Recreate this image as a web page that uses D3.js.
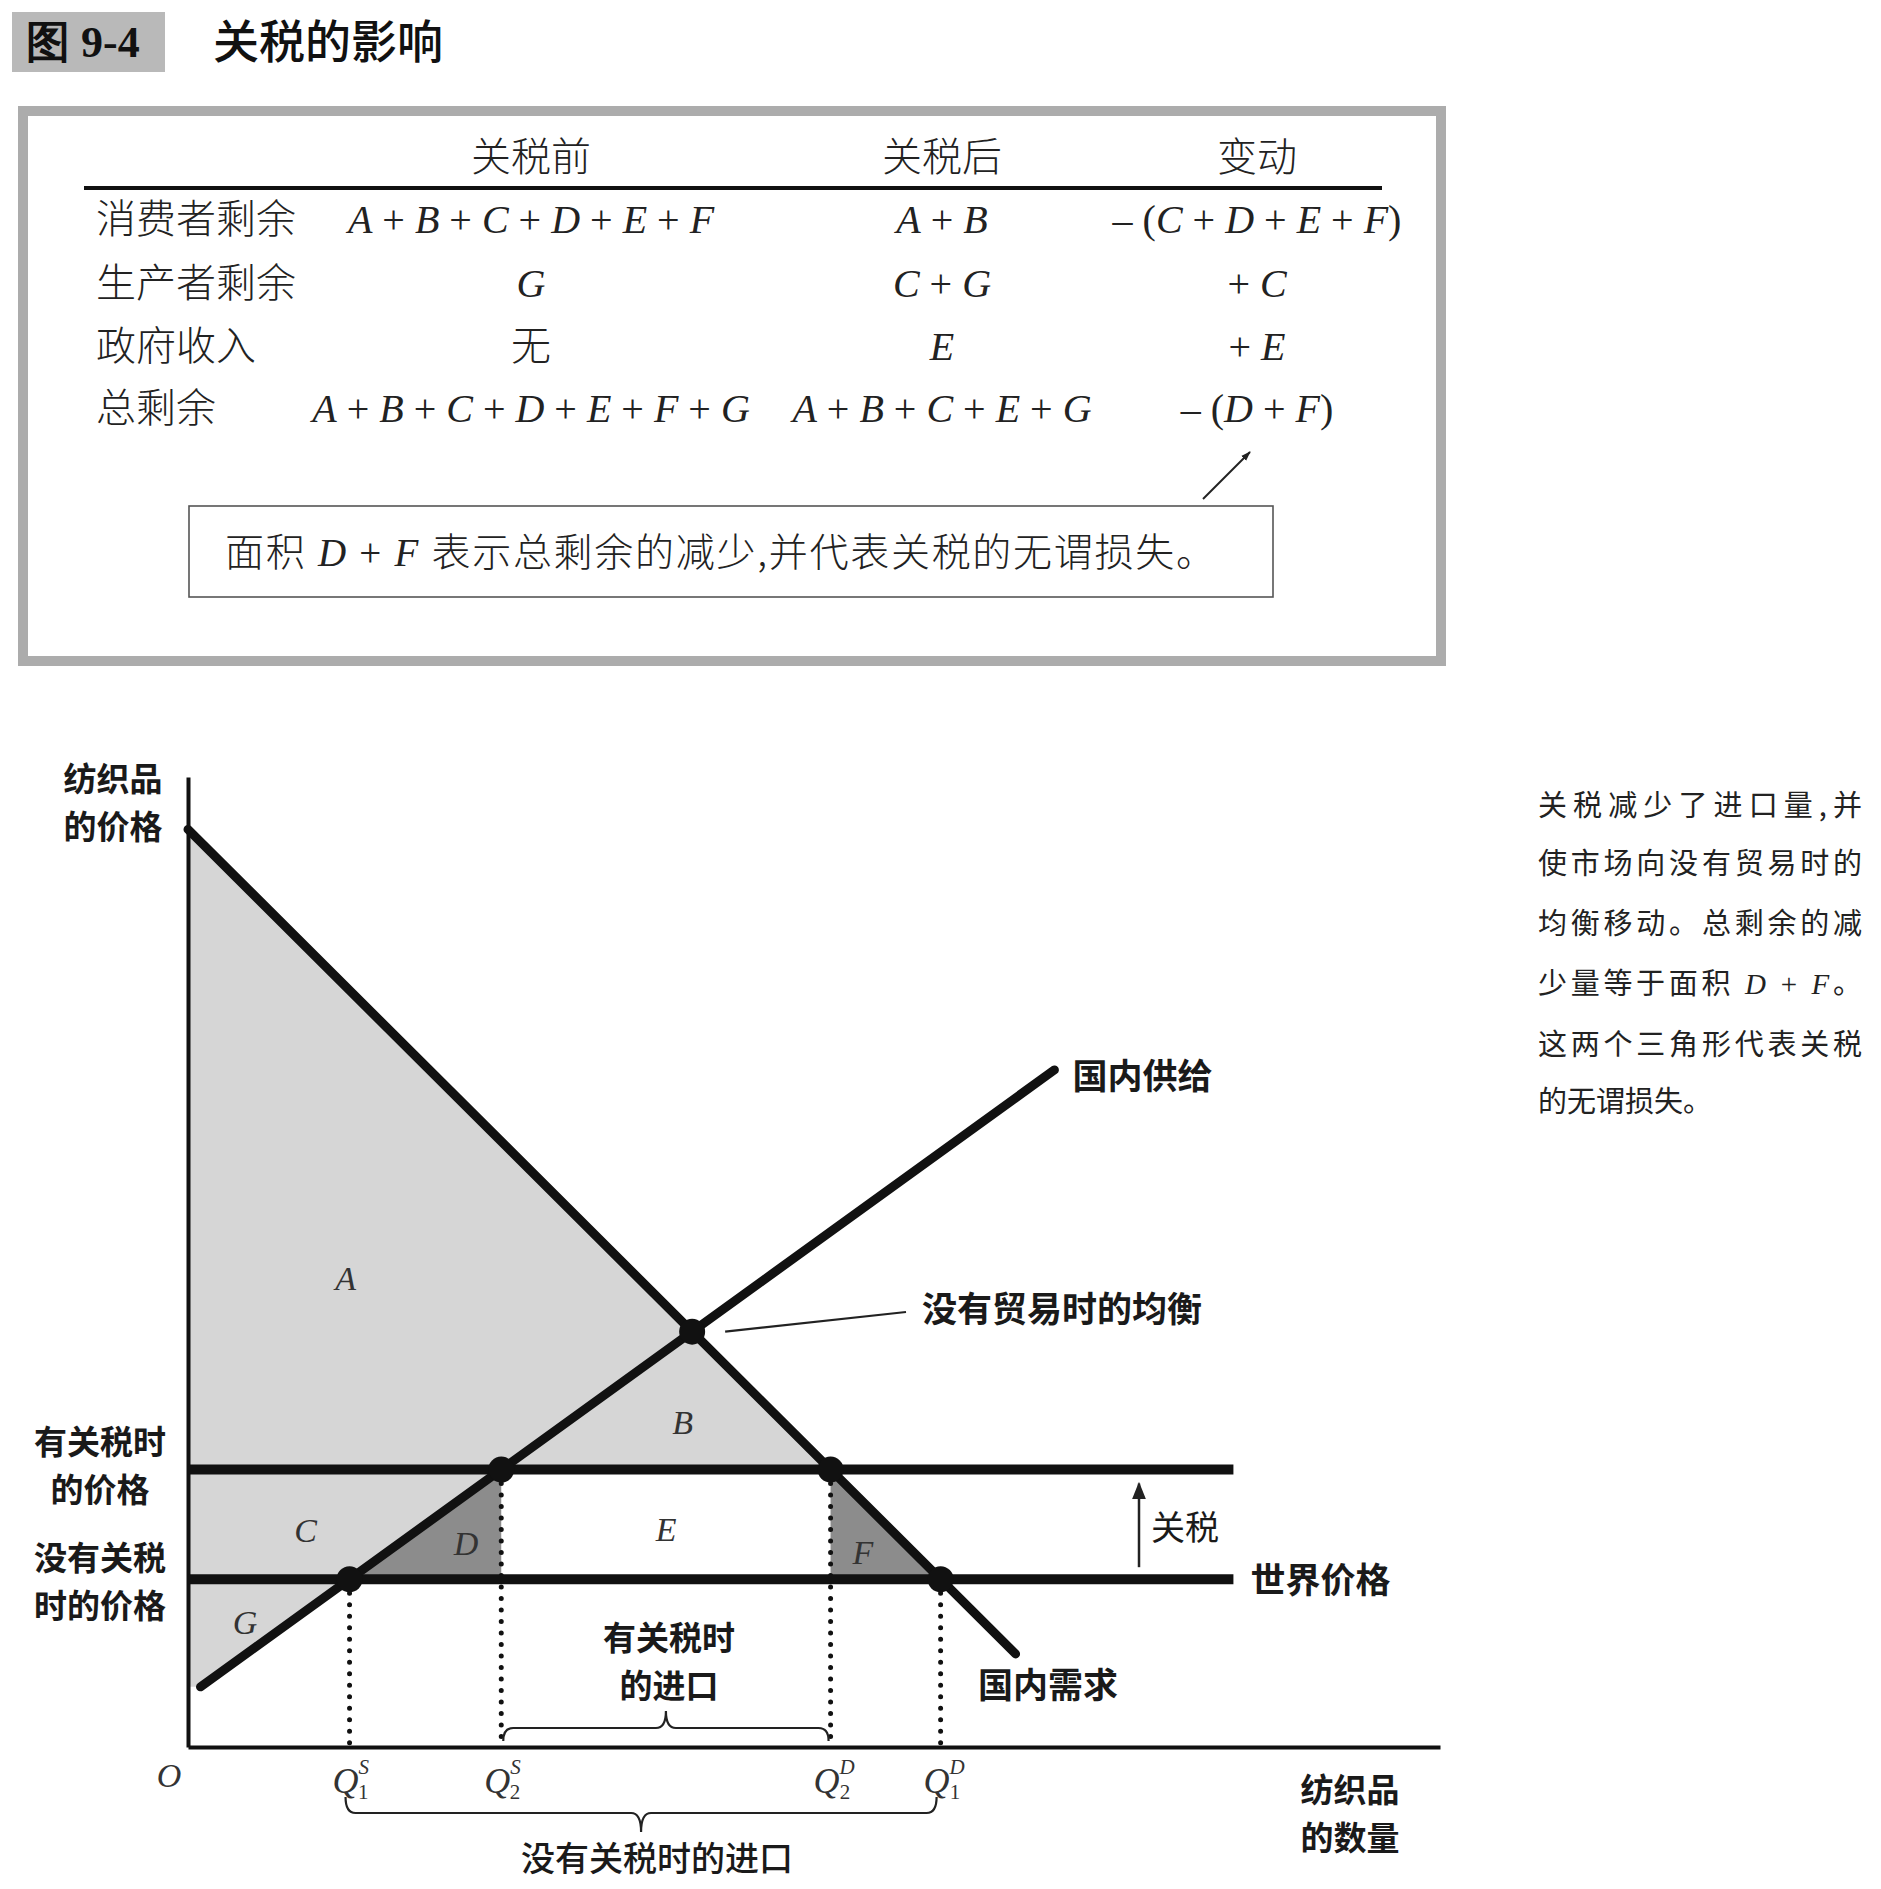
<!DOCTYPE html>
<html><head><meta charset="utf-8">
<script src="https://cdn.jsdelivr.net/npm/d3@7"></script>
<style>
html,body{margin:0;padding:0;background:#fff;}
text{white-space:pre;}
</style></head>
<body>
<svg id="c" width="1881" height="1889"></svg>
<script>
// ---------- data ----------
const figureNo = "图 9-4";
const figureTitle = "关税的影响";
const tableHeaders = ["关税前", "关税后", "变动"];
const rowLabels = ["消费者剩余", "生产者剩余", "政府收入", "总剩余"];
const colBefore = ["A + B + C + D + E + F", "G", "无", "A + B + C + D + E + F + G"];
const colAfter  = ["A + B", "C + G", "E", "A + B + C + E + G"];
const colChange = ["– (C + D + E + F)", "+ C", "+ E", "– (D + F)"];
const noteText = "面积 D + F 表示总剩余的减少,并代表关税的无谓损失。";
const sideText = ["关税减少了进口量,并", "使市场向没有贸易时的", "均衡移动。总剩余的减", "少量等于面积 D + F。", "这两个三角形代表关税", "的无谓损失。"];

// curves (quantity, price) end points
const demandLine = [[0, 94.6], [66.1, 9.6]];
const supplyLine = [[1.0, 6.2], [69.2, 69.8]];
const tariffPrice = 28.6;
const worldPrice = 17.3;
const priceLineEnd = 83.5;
const areaLabels = [
  {t:"A", q:12.6, p:48.4}, {t:"B", q:39.5, p:33.5}, {t:"C", q:9.4, p:22.4},
  {t:"D", q:22.2, p:21.0}, {t:"E", q:38.2, p:22.5}, {t:"F", q:53.9, p:20.1},
  {t:"G", q:4.55, p:12.9}
];
const qTicks = [
  {key:"Q1S", sup:"S", sub:"1"}, {key:"Q2S", sup:"S", sub:"2"},
  {key:"Q2D", sup:"D", sub:"2"}, {key:"Q1D", sup:"D", sub:"1"}
];

// ---------- helpers ----------
const svg = d3.select("#c");
const CJK = "'Noto Sans CJK SC','Noto Sans',sans-serif";
const SERIF = "'Liberation Serif','DejaVu Serif',serif";

svg.append("defs").html(`
 <marker id="ah" viewBox="0 0 10 10" refX="9" refY="5" markerWidth="7" markerHeight="7" orient="auto-start-reverse">
   <path d="M0,1 L10,5 L0,9 Z" fill="#222"/></marker>
 <marker id="ah2" viewBox="0 0 10 10" refX="9" refY="5" markerWidth="5" markerHeight="6" orient="auto-start-reverse">
   <path d="M0,1.5 L10,5 L0,8.5 Z" fill="#222"/></marker>`);

function mathText(g, str, x, y, size, anchor) {
  const t = g.append("text").attr("x", x).attr("y", y).attr("font-size", size)
    .attr("text-anchor", anchor || "middle").attr("fill", "#222").attr("font-family", SERIF);
  for (const ch of str) {
    const sp = t.append("tspan").text(ch);
    if (/[A-Z]/.test(ch)) sp.attr("font-style", "italic");
  }
  return t;
}
function mixedText(t, str) {
  for (const ch of str) {
    const sp = t.append("tspan").text(ch);
    if (/[A-Z]/.test(ch)) sp.attr("font-style", "italic").attr("font-family", SERIF);
    else if (/[+ ]/.test(ch)) sp.attr("font-family", SERIF);
  }
}

// ---------- title ----------
svg.append("rect").attr("x", 12).attr("y", 12).attr("width", 153).attr("height", 60).attr("fill", "#b9b9b9");
svg.append("text").attr("x", 26).attr("y", 57).attr("font-size", 44).attr("font-weight", "bold")
  .attr("font-family", "'Liberation Serif',serif").attr("fill", "#111").text(figureNo);
svg.append("text").attr("x", 213).attr("y", 58).attr("font-size", 46).attr("font-weight", 500)
  .attr("font-family", CJK).attr("fill", "#111").text(figureTitle);

// ---------- table ----------
const tb = svg.append("g");
tb.append("rect").attr("x", 23).attr("y", 111).attr("width", 1418).attr("height", 550)
  .attr("fill", "none").attr("stroke", "#acacac").attr("stroke-width", 10);
const colX = [531, 942, 1257];
tableHeaders.forEach((h, i) => tb.append("text").attr("x", colX[i]).attr("y", 171)
  .attr("text-anchor", "middle").attr("font-size", 40).attr("font-weight", 300)
  .attr("font-family", CJK).attr("fill", "#222").text(h));
tb.append("line").attr("x1", 84).attr("x2", 1382).attr("y1", 188).attr("y2", 188)
  .attr("stroke", "#111").attr("stroke-width", 4);
const rowY = [233, 297, 360, 422];
rowLabels.forEach((r, i) => tb.append("text").attr("x", 96).attr("y", rowY[i])
  .attr("font-size", 40).attr("font-weight", 300).attr("font-family", CJK).attr("fill", "#222").text(r));
[colBefore, colAfter, colChange].forEach((col, ci) => {
  col.forEach((s, ri) => {
    if (/[\u4e00-\u9fff]/.test(s)) {
      tb.append("text").attr("x", colX[ci]).attr("y", rowY[ri]).attr("text-anchor", "middle")
        .attr("font-size", 40).attr("font-weight", 300).attr("font-family", CJK).attr("fill", "#222").text(s);
    } else mathText(tb, s, colX[ci], rowY[ri], 40);
  });
});
// note arrow and box
tb.append("line").attr("x1", 1203).attr("y1", 499).attr("x2", 1250).attr("y2", 452)
  .attr("stroke", "#222").attr("stroke-width", 2).attr("marker-end", "url(#ah2)");
tb.append("rect").attr("x", 189).attr("y", 506).attr("width", 1084).attr("height", 91)
  .attr("fill", "none").attr("stroke", "#555").attr("stroke-width", 1.6);
const nt = tb.append("text").attr("x", 225).attr("y", 566).attr("font-size", 39).attr("font-weight", 300)
  .attr("font-family", CJK).attr("fill", "#222").attr("textLength", 990).attr("lengthAdjust", "spacing");
mixedText(nt, noteText);

// ---------- chart ----------
const x = d3.scaleLinear().domain([0, 100]).range([188, 1440]);
const y = d3.scaleLinear().domain([0, 100]).range([1747, 777]);
const lineAt = (L, p) => L[0][0] + (p - L[0][1]) * (L[1][0] - L[0][0]) / (L[1][1] - L[0][1]);
const slope = L => (L[1][1] - L[0][1]) / (L[1][0] - L[0][0]);
const Q = {
  Q1S: lineAt(supplyLine, worldPrice), Q2S: lineAt(supplyLine, tariffPrice),
  Q2D: lineAt(demandLine, tariffPrice), Q1D: lineAt(demandLine, worldPrice)
};
const sd = slope(demandLine), ss = slope(supplyLine);
const eqQ = (supplyLine[0][1] - ss * supplyLine[0][0] - demandLine[0][1] + sd * demandLine[0][0]) / (sd - ss);
const eqP = demandLine[0][1] + sd * (eqQ - demandLine[0][0]);

const ch = svg.append("g");
const area = d3.line().x(d => x(d[0])).y(d => y(d[1]));
const light = "#d6d6d6", dark = "#8c8c8c";
ch.append("path").attr("d", area([[0, demandLine[0][1]], [Q.Q2D, tariffPrice], [0, tariffPrice]]) + "Z").attr("fill", light);
ch.append("path").attr("d", area([[0, tariffPrice], [Q.Q2S, tariffPrice], supplyLine[0], [0, supplyLine[0][1]]]) + "Z").attr("fill", light);
ch.append("path").attr("d", area([[Q.Q1S, worldPrice], [Q.Q2S, tariffPrice], [Q.Q2S, worldPrice]]) + "Z").attr("fill", dark);
ch.append("path").attr("d", area([[Q.Q2D, tariffPrice], [Q.Q2D, worldPrice], [Q.Q1D, worldPrice]]) + "Z").attr("fill", dark);

// dotted drop lines
[["Q1S", worldPrice], ["Q2S", tariffPrice], ["Q2D", tariffPrice], ["Q1D", worldPrice]].forEach(([k, p]) => {
  ch.append("line").attr("x1", x(Q[k])).attr("x2", x(Q[k])).attr("y1", y(p) + 14).attr("y2", y(0))
    .attr("stroke", "#111").attr("stroke-width", 5).attr("stroke-linecap", "round").attr("stroke-dasharray", "0 11.5");
});

// axes
ch.append("g").attr("transform", `translate(${x(0)},0)`)
  .call(d3.axisLeft(y).tickValues([]).tickSizeOuter(0))
  .select(".domain").attr("stroke", "#111").attr("stroke-width", 4);
ch.append("g").attr("transform", `translate(0,${y(0)})`)
  .call(d3.axisBottom(x).tickValues([]).tickSizeOuter(0))
  .select(".domain").attr("stroke", "#111").attr("stroke-width", 4);

// price lines
[tariffPrice, worldPrice].forEach(p => ch.append("line").attr("x1", x(0)).attr("x2", x(priceLineEnd))
  .attr("y1", y(p)).attr("y2", y(p)).attr("stroke", "#111").attr("stroke-width", 10));
// curves
[demandLine, supplyLine].forEach(L => ch.append("path").attr("d", area(L)).attr("fill", "none")
  .attr("stroke", "#111").attr("stroke-width", 9).attr("stroke-linecap", "round"));
// points
[[Q.Q1S, worldPrice], [Q.Q2S, tariffPrice], [Q.Q2D, tariffPrice], [Q.Q1D, worldPrice], [eqQ, eqP]].forEach(([q, p]) =>
  ch.append("circle").attr("cx", x(q)).attr("cy", y(p)).attr("r", 13).attr("fill", "#111"));

// area labels
areaLabels.forEach(a => ch.append("text").attr("x", x(a.q)).attr("y", y(a.p) + 12).attr("text-anchor", "middle")
  .attr("font-size", 34).attr("font-style", "italic").attr("font-family", SERIF).attr("fill", "#333").text(a.t));

function label(txt, xx, yy, opts) {
  opts = opts || {};
  const lines = Array.isArray(txt) ? txt : [txt];
  const t = ch.append("text").attr("x", xx).attr("y", yy).attr("font-size", opts.size || 35)
    .attr("font-weight", opts.weight || "bold").attr("font-family", CJK)
    .attr("text-anchor", opts.anchor || "start").attr("fill", "#1a1a1a");
  lines.forEach((l, i) => t.append("tspan").attr("x", xx).attr("dy", i ? (opts.lh || 48) : 0).text(l));
  return t;
}
label("国内供给", x(supplyLine[1][0]) + 18, 1089);
label("没有贸易时的均衡", 922, 1322);
ch.append("line").attr("x1", x(eqQ) + 33).attr("y1", y(eqP)).attr("x2", 906).attr("y2", 1312)
  .attr("stroke", "#222").attr("stroke-width", 2.2);
label("国内需求", 978, 1698);
label("世界价格", x(priceLineEnd) + 17, y(worldPrice) + 14);
label("关税", 1151, 1540, {weight: 400, size: 34});
ch.append("line").attr("x1", 1139).attr("x2", 1139).attr("y1", y(worldPrice) - 12).attr("y2", y(tariffPrice) + 14)
  .attr("stroke", "#222").attr("stroke-width", 2.5).attr("marker-end", "url(#ah)");
label(["有关税时", "的价格"], 100, 1454, {anchor: "middle", size: 33});
label(["没有关税", "时的价格"], 100, 1570, {anchor: "middle", size: 33});
label(["纺织品", "的价格"], 113, 791, {anchor: "middle", size: 33});
label(["纺织品", "的数量"], 1350, 1802, {anchor: "middle", size: 33});
label(["有关税时", "的进口"], 669, 1650, {anchor: "middle", size: 33});
label("没有关税时的进口", 657, 1871, {anchor: "middle", weight: 500, size: 34});

// origin and Q tick labels
ch.append("text").attr("x", 169).attr("y", 1787).attr("text-anchor", "middle").attr("font-size", 34)
  .attr("font-style", "italic").attr("font-family", SERIF).attr("fill", "#333").text("O");
qTicks.forEach(t => {
  const tx = ch.append("text").attr("x", x(Q[t.key]) - 17).attr("y", 1793).attr("font-size", 36)
    .attr("font-family", SERIF).attr("fill", "#333");
  tx.append("tspan").attr("font-style", "italic").text("Q");
  tx.append("tspan").attr("font-size", 21).attr("font-style", "italic").attr("dy", -19).text(t.sup);
  tx.append("tspan").attr("font-size", 21).attr("dx", t.sup === "D" ? -15 : -11).attr("dy", 25).text(t.sub);
});

// braces
function brace(x1, x2, yEnd, yFlat, yTip) {
  const xm = (x1 + x2) / 2, r = 10;
  const p = d3.path();
  p.moveTo(x1, yEnd);
  p.quadraticCurveTo(x1, yFlat, x1 + r, yFlat);
  p.lineTo(xm - r, yFlat);
  p.quadraticCurveTo(xm, yFlat, xm, yTip);
  p.quadraticCurveTo(xm, yFlat, xm + r, yFlat);
  p.lineTo(x2 - r, yFlat);
  p.quadraticCurveTo(x2, yFlat, x2, yEnd);
  ch.append("path").attr("d", p.toString()).attr("fill", "none").attr("stroke", "#222").attr("stroke-width", 2.2);
}
brace(x(Q.Q2S) + 2, x(Q.Q2D) - 2, 1741, 1728, 1711);
brace(x(Q.Q1S) - 4, x(Q.Q1D) - 4, 1797, 1813, 1832);

// ---------- side text ----------
const sideY = [816, 874, 934, 994, 1055, 1112];
sideText.forEach((s, i) => {
  const t = svg.append("text").attr("x", 1538).attr("y", sideY[i]).attr("font-size", 29)
    .attr("font-family", CJK).attr("fill", "#222");
  if (i < sideText.length - 1) t.attr("textLength", 324).attr("lengthAdjust", "spacing");
  mixedText(t, s);
});
</script>
</body></html>
